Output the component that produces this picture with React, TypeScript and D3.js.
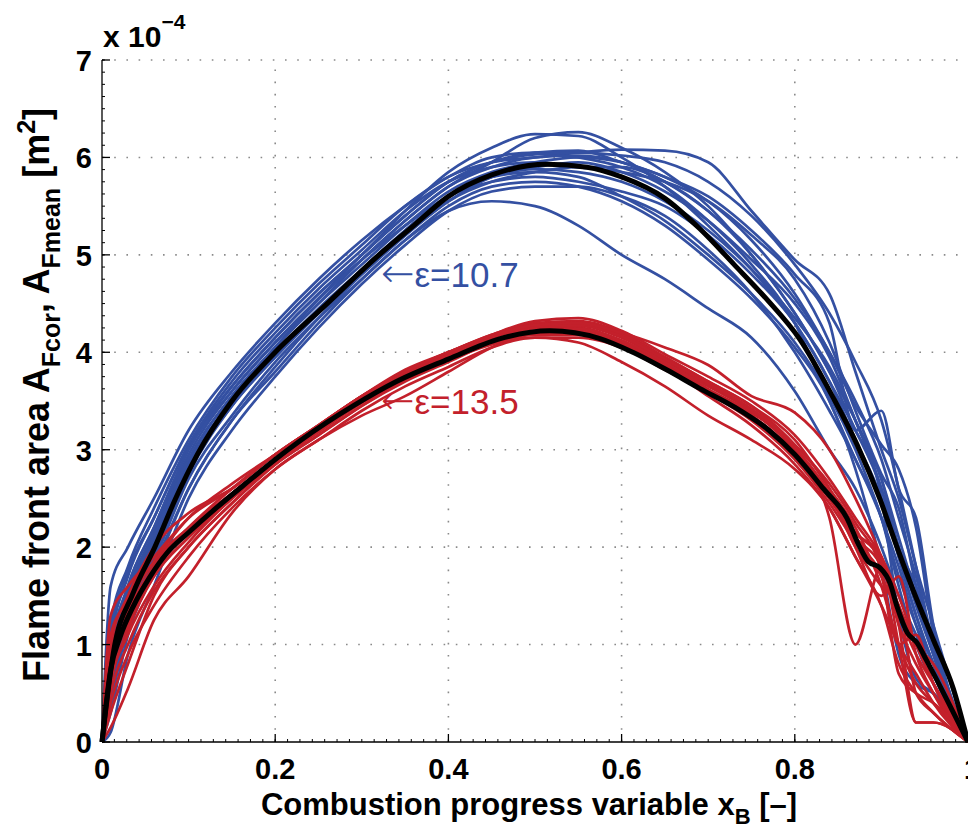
import * as d3 from "d3";

const W = 968;
const H = 829;
const margin = { top: 60, right: 0, bottom: 87, left: 102 };

// ticks
const xTicks = [0, 0.2, 0.4, 0.6, 0.8, 1];
const xTickLabels = ["0", "0.2", "0.4", "0.6", "0.8", "1"];
const yTicks = [0, 1, 2, 3, 4, 5, 6, 7];

// shared x grid for the individual cycles
const xGrid = [0, 0.01, 0.03, 0.06, 0.1, 0.15, 0.2, 0.25, 0.3, 0.35, 0.4, 0.45, 0.5, 0.55, 0.6, 0.65, 0.7, 0.75, 0.8, 0.84, 0.87, 0.9, 0.92, 0.94, 0.96, 1];

// eps = 10.7 cycles (x 1e-4 m^2)
const blueRuns = [
  [0, 0.9, 1.6, 2.2, 3.0, 3.65, 4.15, 4.6, 5.0, 5.45, 5.85, 6.1, 6.24, 6.22, 6.0, 5.7, 5.3, 4.85, 4.3, 3.7, 3.1, 2.5, 1.9, 1.3, 0.8, 0],
  [0, 0.6, 1.4, 2.0, 2.85, 3.5, 4.05, 4.5, 4.95, 5.35, 5.7, 5.95, 6.2, 6.26, 6.1, 5.85, 5.5, 5.0, 4.4, 3.8, 3.3, 2.7, 2.1, 1.5, 0.9, 0],
  [0, 1.2, 1.8, 2.4, 3.1, 3.75, 4.25, 4.7, 5.1, 5.5, 5.8, 5.95, 6.0, 6.05, 6.08, 6.07, 5.95, 5.45, 4.95, 4.6, 3.8, 3.0, 2.5, 1.8, 1.2, 0],
  [0, 0.4, 1.2, 1.8, 2.6, 3.3, 3.8, 4.3, 4.75, 5.15, 5.45, 5.55, 5.5, 5.3, 5.0, 4.75, 4.45, 4.15, 3.6, 3.0, 2.6, 2.0, 1.5, 1.1, 0.7, 0],
  [0, 0.8, 1.5, 2.1, 2.9, 3.55, 4.05, 4.55, 4.95, 5.3, 5.6, 5.75, 5.8, 5.75, 5.65, 5.5, 5.2, 4.8, 4.3, 3.7, 3.2, 2.6, 2.0, 1.4, 0.9, 0],
  [0, 1.6, 2.0, 2.5, 3.2, 3.8, 4.3, 4.75, 5.15, 5.5, 5.8, 6.0, 6.05, 6.0, 5.9, 5.7, 5.35, 4.9, 4.3, 3.5, 2.9, 2.3, 1.6, 1.0, 0.6, 0],
  [0, 0.1, 0.9, 1.6, 2.5, 3.2, 3.75, 4.25, 4.7, 5.1, 5.45, 5.65, 5.7, 5.7, 5.6, 5.4, 5.05, 4.6, 4.0, 3.4, 2.9, 2.3, 1.8, 1.2, 0.7, 0],
  [0, 0.5, 1.3, 1.9, 2.75, 3.45, 3.95, 4.4, 4.8, 5.2, 5.55, 5.8, 5.9, 5.95, 5.85, 5.65, 5.35, 4.95, 4.5, 3.95, 3.3, 2.6, 1.9, 1.3, 0.8, 0],
  [0, 0.9, 1.55, 2.15, 2.95, 3.6, 4.1, 4.55, 5.0, 5.4, 5.75, 5.95, 6.05, 6.07, 5.95, 5.8, 5.55, 5.15, 4.6, 4.0, 3.5, 2.9, 2.3, 1.7, 1.0, 0],
  [0, 0.7, 1.45, 2.05, 2.85, 3.5, 4.0, 4.45, 4.85, 5.25, 5.6, 5.8, 5.85, 5.8, 5.6, 5.35, 5.0, 4.6, 4.1, 3.55, 3.0, 2.3, 1.7, 1.2, 0.8, 0],
  [0, 1.0, 1.7, 2.3, 3.05, 3.7, 4.2, 4.65, 5.05, 5.45, 5.75, 5.9, 5.95, 5.9, 5.85, 5.75, 5.55, 5.2, 4.75, 4.1, 3.4, 2.75, 2.4, 1.6, 0.9, 0],
  [0, 0.3, 1.1, 1.75, 2.6, 3.3, 3.85, 4.35, 4.8, 5.2, 5.55, 5.75, 5.85, 5.9, 5.9, 5.75, 5.45, 5.0, 4.4, 3.8, 3.2, 2.7, 2.0, 1.6, 1.0, 0],
  [0, 0.8, 1.5, 2.1, 2.9, 3.55, 4.05, 4.5, 4.9, 5.3, 5.65, 5.85, 5.95, 6.0, 5.95, 5.8, 5.6, 5.25, 4.8, 4.3, 3.2, 3.4, 2.6, 2.3, 1.2, 0],
  [0, 0.6, 1.35, 1.95, 2.8, 3.45, 3.95, 4.4, 4.85, 5.25, 5.6, 5.8, 5.88, 5.85, 5.75, 5.55, 5.25, 4.85, 4.35, 3.85, 3.3, 2.5, 1.3, 0.65, 0.5, 0],
  [0, 1.1, 1.75, 2.3, 3.05, 3.65, 4.15, 4.6, 5.0, 5.4, 5.75, 5.95, 6.03, 6.05, 6.02, 5.95, 5.75, 5.4, 4.9, 4.4, 3.9, 3.3, 2.6, 1.8, 1.0, 0],
  [0, 0.4, 1.25, 1.85, 2.7, 3.35, 3.9, 4.35, 4.75, 5.15, 5.5, 5.7, 5.75, 5.7, 5.55, 5.3, 4.95, 4.55, 4.05, 3.5, 2.8, 1.8, 0.9, 0.6, 0.5, 0],
  [0, 0.9, 1.6, 2.2, 3.0, 3.6, 4.1, 4.55, 4.95, 5.35, 5.7, 5.9, 6.0, 6.02, 5.95, 5.75, 5.45, 5.05, 4.55, 4.0, 3.45, 3.05, 2.8, 2.2, 1.1, 0],
];

// eps = 13.5 cycles
const redRuns = [
  [0, 0.75, 1.25, 1.75, 2.15, 2.55, 2.9, 3.2, 3.52, 3.77, 3.95, 4.12, 4.22, 4.2, 4.08, 3.85, 3.6, 3.35, 2.95, 2.5, 2.1, 1.8, 1.3, 1.0, 0.8, 0],
  [0, 0.15, 0.55, 1.25, 1.7, 2.35, 2.8, 3.1, 3.4, 3.65, 3.85, 4.05, 4.15, 4.15, 4.05, 3.85, 3.55, 3.25, 2.85, 2.4, 1.9, 1.4, 0.8, 0.5, 0.3, 0],
  [0, 1.0, 1.5, 2.0, 2.35, 2.6, 2.95, 3.25, 3.55, 3.8, 4.0, 4.18, 4.3, 4.32, 4.2, 3.95, 3.7, 3.45, 3.1, 2.6, 2.2, 1.6, 1.0, 0.6, 0.4, 0],
  [0, 0.5, 1.0, 1.55, 2.0, 2.45, 2.85, 3.2, 3.5, 3.75, 3.95, 4.15, 4.28, 4.3, 4.18, 3.95, 3.7, 3.45, 3.05, 2.6, 2.0, 1.5, 1.7, 0.9, 0.5, 0],
  [0, 1.3, 1.6, 1.9, 2.3, 2.6, 2.95, 3.25, 3.55, 3.8, 3.98, 4.15, 4.25, 4.25, 4.12, 3.9, 3.65, 3.4, 3.0, 2.55, 2.15, 1.9, 1.0, 0.2, 0.2, 0],
  [0, 0.6, 1.15, 1.7, 2.1, 2.5, 2.88, 3.2, 3.5, 3.75, 3.95, 4.1, 4.15, 4.1, 3.9, 3.65, 3.35, 3.1, 2.8, 2.4, 1.9, 1.4, 1.0, 0.7, 0.4, 0],
  [0, 0.4, 0.9, 1.4, 1.9, 2.4, 2.8, 3.1, 3.35, 3.55, 3.8, 4.05, 4.2, 4.22, 4.1, 3.88, 3.62, 3.38, 3.0, 2.3, 1.0, 1.8, 1.2, 0.8, 0.5, 0],
  [0, 0.9, 1.4, 1.85, 2.2, 2.55, 2.9, 3.2, 3.5, 3.78, 3.95, 4.12, 4.25, 4.27, 4.15, 3.92, 3.67, 3.4, 3.02, 2.55, 2.0, 1.6, 1.4, 0.5, 0.3, 0],
  [0, 0.7, 1.2, 1.7, 2.1, 2.5, 2.85, 3.15, 3.45, 3.72, 3.92, 4.08, 4.18, 4.18, 4.05, 3.82, 3.58, 3.3, 2.9, 2.45, 2.05, 1.7, 1.0, 1.1, 0.6, 0],
  [0, 1.1, 1.45, 1.85, 2.3, 2.65, 2.95, 3.25, 3.55, 3.82, 4.0, 4.18, 4.32, 4.35, 4.22, 3.98, 3.75, 3.5, 3.15, 2.7, 2.3, 1.9, 1.5, 1.0, 0.7, 0],
  [0, 0.3, 0.8, 1.5, 2.0, 2.45, 2.85, 3.15, 3.45, 3.7, 3.9, 4.1, 4.22, 4.24, 4.12, 3.9, 3.62, 3.35, 2.95, 2.5, 2.15, 1.85, 1.2, 0.2, 0.2, 0],
  [0, 0.8, 1.3, 1.8, 2.2, 2.55, 2.9, 3.2, 3.52, 3.8, 3.97, 4.15, 4.27, 4.28, 4.16, 3.93, 3.68, 3.42, 3.05, 2.65, 2.25, 1.75, 0.7, 0.5, 0.4, 0],
  [0, 0.6, 1.1, 1.6, 2.05, 2.5, 2.88, 3.18, 3.48, 3.73, 3.93, 4.1, 4.2, 4.2, 4.08, 3.86, 3.6, 3.35, 2.97, 2.5, 2.1, 1.7, 1.3, 0.9, 0.6, 0],
  [0, 0.9, 1.35, 1.8, 2.2, 2.6, 2.95, 3.25, 3.55, 3.8, 4.0, 4.17, 4.28, 4.3, 4.2, 4.05, 3.87, 3.55, 3.38, 3.0, 2.5, 1.9, 1.4, 1.0, 0.6, 0],
];

// mean curves
const blueMeanX = [0, 0.013, 0.036, 0.061, 0.085, 0.11, 0.15, 0.2, 0.26, 0.32, 0.36, 0.4, 0.45, 0.514, 0.56, 0.6, 0.65, 0.69, 0.73, 0.767, 0.806, 0.844, 0.872, 0.898, 0.918, 0.937, 0.96, 0.983, 1];
const blueMeanY = [0, 0.91, 1.53, 2.0, 2.5, 2.95, 3.5, 4.0, 4.5, 5.0, 5.3, 5.6, 5.82, 5.93, 5.9, 5.8, 5.58, 5.27, 4.9, 4.55, 4.13, 3.54, 3.05, 2.5, 2.0, 1.55, 1.05, 0.55, 0];
const redMeanX = [0, 0.01, 0.021, 0.036, 0.055, 0.075, 0.1, 0.133, 0.171, 0.2, 0.23, 0.29, 0.34, 0.4, 0.46, 0.517, 0.575, 0.613, 0.652, 0.69, 0.73, 0.77, 0.8, 0.833, 0.86, 0.875, 0.885, 0.898, 0.91, 0.918, 0.93, 0.941, 0.952, 1];
const redMeanY = [0, 0.74, 1.08, 1.39, 1.69, 1.94, 2.15, 2.41, 2.69, 2.9, 3.1, 3.45, 3.7, 3.93, 4.14, 4.22, 4.14, 4.0, 3.82, 3.63, 3.44, 3.2, 2.95, 2.6, 2.3, 2.0, 1.85, 1.79, 1.63, 1.39, 1.12, 1.02, 0.84, 0];

const BLUE = "#3450A2";
const RED = "#C3202B";
const FONT = "'Liberation Sans', Arial, Helvetica, sans-serif";

export default function App() {
  const x = d3.scaleLinear().domain([0, 1]).range([margin.left, W - margin.right]);
  const y = d3.scaleLinear().domain([0, 7]).range([H - margin.bottom, margin.top]);

  const line = d3
    .line<[number, number]>()
    .x(d => x(d[0]))
    .y(d => y(d[1]))
    .curve(d3.curveMonotoneX);

  const runPath = (ys: number[]) => line(xGrid.map((xv, i) => [xv, ys[i]] as [number, number])) || "";
  const meanPath = (xs: number[], ys: number[]) => line(xs.map((xv, i) => [xv, ys[i]] as [number, number])) || "";

  const x0 = x(0);
  const x1 = x(1);
  const y0 = y(0);
  const y7 = y(7);

  const xMinor = d3.range(0, 1.0001, 1 / 70);
  const yMinor = d3.range(0, 7.0001, 1 / 8);

  return (
    <svg
      width={W}
      height={H}
      style={{ position: "absolute", left: 0, top: 0, background: "#fff" }}
      fontFamily={FONT}
    >
      {/* dotted grid */}
      <g stroke="#8a8a8a" strokeWidth={1.6} strokeDasharray="1.6,10.6">
        {yTicks.filter(t => t > 0).map(t => (
          <line key={"gy" + t} x1={x0} x2={x1} y1={y(t)} y2={y(t)} />
        ))}
        {xTicks.filter(t => t > 0 && t < 1).map(t => (
          <line key={"gx" + t} x1={x(t)} x2={x(t)} y1={y0} y2={y7} />
        ))}
      </g>

      {/* cycles */}
      <g fill="none" strokeWidth={2.7} strokeLinejoin="round">
        {blueRuns.map((r, i) => (
          <path key={"b" + i} d={runPath(r)} stroke={BLUE} />
        ))}
        {redRuns.map((r, i) => (
          <path key={"r" + i} d={runPath(r)} stroke={RED} />
        ))}
      </g>

      {/* means */}
      <g fill="none" stroke="#000" strokeWidth={5} strokeLinejoin="round">
        <path d={meanPath(blueMeanX, blueMeanY)} />
        <path d={meanPath(redMeanX, redMeanY)} />
      </g>

      {/* axes */}
      <g stroke="#000">
        <line x1={x0} x2={x0} y1={y0} y2={y7} strokeWidth={1.3} />
        <line x1={x0} x2={x1} y1={y0} y2={y0} strokeWidth={1.3} />
        {yMinor.map((t, i) => (
          <line key={"ym" + i} x1={x0} x2={x0 + 3} y1={y(t)} y2={y(t)} strokeWidth={1} />
        ))}
        {xMinor.map((t, i) => (
          <line key={"xm" + i} x1={x(t)} x2={x(t)} y1={y0} y2={y0 - 3} strokeWidth={1} />
        ))}
        {yTicks.map(t => (
          <line key={"yt" + t} x1={x0} x2={x0 + 8} y1={y(t)} y2={y(t)} strokeWidth={1.3} />
        ))}
        {xTicks.map(t => (
          <line key={"xt" + t} x1={x(t)} x2={x(t)} y1={y0} y2={y0 - 8} strokeWidth={1.3} />
        ))}
      </g>

      {/* tick labels */}
      <g fontWeight="bold" fontSize={29} fill="#000">
        {yTicks.map(t => (
          <text key={"yl" + t} x={x0 - 10} y={y(t) + 11} textAnchor="end">
            {t}
          </text>
        ))}
        {xTicks.map((t, i) => (
          <text key={"xl" + t} x={x(t) + (t === 1 ? 4 : 0)} y={y0 + 37} textAnchor="middle">
            {xTickLabels[i]}
          </text>
        ))}
      </g>

      {/* exponent */}
      <text x={103} y={47} fontWeight="bold" fontSize={30}>
        x 10
        <tspan dy={-18} fontSize={21}>−4</tspan>
      </text>

      {/* annotations */}
      <text x={381} y={287} fontSize={35} fill={BLUE}>
        <tspan fontFamily="'DejaVu Sans'" fontSize={40} fontWeight={200}>←</tspan>ε=10.7
      </text>
      <text x={381} y={414} fontSize={35} fill={RED}>
        <tspan fontFamily="'DejaVu Sans'" fontSize={40} fontWeight={200}>←</tspan>ε=13.5
      </text>

      {/* axis titles */}
      <text x={(x0 + x1) / 2 - 6} y={815} textAnchor="middle" fontWeight="bold" fontSize={31}>
        Combustion progress variable x
        <tspan dy={9} fontSize={22}>B</tspan>
        <tspan dy={-9}> [–]</tspan>
      </text>
      <text
        transform={`translate(49,${395}) rotate(-90)`}
        textAnchor="middle"
        fontWeight="bold"
        fontSize={36}
      >
        Flame front area A
        <tspan dy={11} fontSize={25}>Fcor</tspan>
        <tspan dy={-11}>, A</tspan>
        <tspan dy={11} fontSize={25}>Fmean</tspan>
        <tspan dy={-11}> [m</tspan>
        <tspan dy={-14} fontSize={25}>2</tspan>
        <tspan dy={14}>]</tspan>
      </text>
    </svg>
  );
}
